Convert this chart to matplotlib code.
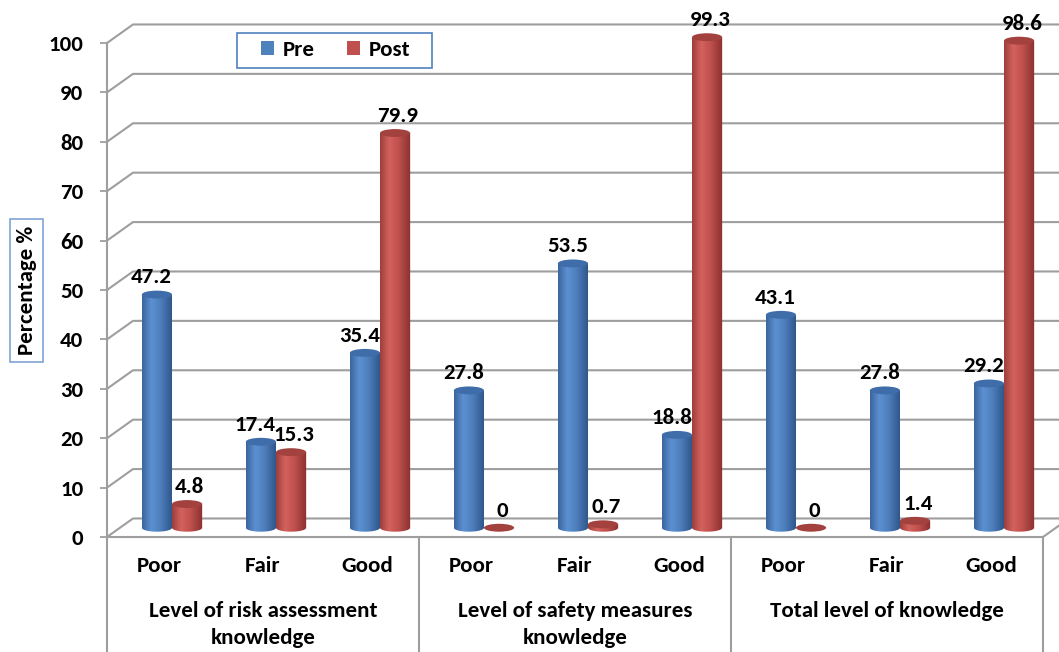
import numpy as np
import matplotlib
matplotlib.use('Agg')
import matplotlib.pyplot as plt
from matplotlib.patches import Ellipse, Patch, PathPatch, Rectangle
from matplotlib.path import Path
from matplotlib.colors import LinearSegmentedColormap

categories = ['Poor', 'Fair', 'Good'] * 3
groups = ['Level of risk assessment\nknowledge',
          'Level of safety measures\nknowledge',
          'Total level of knowledge']
pre = [47.2, 17.4, 35.4, 27.8, 53.5, 18.8, 43.1, 27.8, 29.2]
post = [4.8, 15.3, 79.9, 0, 0.7, 99.3, 0, 1.4, 98.6]
yticks = list(range(0, 101, 10))

plt.rcParams['font.family'] = ['Carlito', 'DejaVu Sans']
plt.rcParams['font.weight'] = 'bold'
FS = 16.5

W, H = 1059, 652
fig = plt.figure(figsize=(W / 100, H / 100), dpi=100)
# axes = front plane of the 3d box, 4.94 px per percent
ax = fig.add_axes([107 / W, 1 - 537 / H, 936 / W, 105 * 4.94 / H])
ax.set_xlim(0, 9)
ax.set_ylim(0, 105)
for s in ax.spines.values():
    s.set_visible(False)
ax.patch.set_visible(False)

# depth of floor / back wall in data units
DX, DY = 0.25, 3.75
grid_c = '#9e9e9e'
lw = 1.5
n = len(categories)

for v in yticks[1:]:
    ax.plot([0, DX, n + 1], [v, v + DY, v + DY], color=grid_c, lw=lw,
            clip_on=False, zorder=1)
# floor
ax.plot([0, DX, n + DX, n, 0], [0, DY, DY, 0, 0], color=grid_c, lw=lw,
        clip_on=False, zorder=1)
# front axis and group separators
ax.plot([0, 0], [100, -30], color=grid_c, lw=lw, clip_on=False, zorder=1)
for g in range(1, 4):
    ax.plot([3 * g, 3 * g], [0, -30], color=grid_c, lw=lw, clip_on=False, zorder=1)

blue_cm = LinearSegmentedColormap.from_list(
    'b', [(0, '#3a649c'), (0.3, '#5c90d2'), (0.6, '#4d7fbc'), (1, '#2c5486')])
red_cm = LinearSegmentedColormap.from_list(
    'r', [(0, '#9c3e3b'), (0.3, '#d4625e'), (0.6, '#c0504d'), (1, '#88302e')])

bw = 0.29
eh = 1.6
base = DY / 2
grad = np.linspace(0, 1, 256).reshape(1, -1)


def cylinder(cx, v, cmap, top_c, dx):
    x0, x1 = cx - bw / 2, cx + bw / 2
    top = base + v
    if v > 0:
        t = np.linspace(np.pi, 2 * np.pi, 40)
        xs = np.concatenate([[x0], cx + bw / 2 * np.cos(t), [x1, x0]])
        ys = np.concatenate([[top], base + eh / 2 * np.sin(t), [top, top]])
        clip = PathPatch(Path(np.column_stack([xs, ys])), fc='none', ec='none')
        ax.add_patch(clip)
        im = ax.imshow(grad, cmap=cmap, extent=[x0, x1, base - eh / 2, top],
                       aspect='auto', zorder=3)
        im.set_clip_path(clip)
    ax.add_patch(Ellipse((cx, top), bw, eh, fc=top_c, ec='none', zorder=4))
    ax.annotate(f'{v:g}', (cx, top), xytext=(dx, 8), textcoords='offset points',
                ha='center', va='baseline', fontsize=FS, fontweight='bold',
                zorder=5, annotation_clip=False)


for i in range(n):
    c = i + 0.5 + DX / 2
    cylinder(c - bw / 2, pre[i], blue_cm, '#3f6da9', -4)
    cylinder(c + bw / 2, post[i], red_cm, '#a3413e', 2)

ax.set_xlim(0, 9)
ax.set_ylim(0, 105)

ax.set_yticks(yticks)
ax.tick_params(axis='y', length=5, width=1.3, color=grid_c, pad=12, labelsize=FS)
ax.set_xticks(np.arange(n) + 0.5, categories)
ax.tick_params(axis='x', length=0, pad=14, labelsize=FS)

for g, name in enumerate(groups):
    ax.text(3 * g + 1.5, -13.0, name, ha='center', va='top', fontsize=FS,
            fontweight='bold', linespacing=1.45, clip_on=False)

# legend
fig.add_artist(Rectangle((237 / W, 1 - 68 / H), 195 / W, 35 / H,
                         transform=fig.transFigure, fc='white',
                         ec='#4f81bd', lw=1.2, zorder=6))
leg = fig.legend(handles=[Patch(fc='#4f81bd'), Patch(fc='#c0504d')],
                 labels=['Pre', 'Post'], loc='center',
                 bbox_to_anchor=(336 / W, 1 - 50 / H), ncol=2, frameon=False,
                 handlelength=0.55, handleheight=0.55, handletextpad=0.4,
                 columnspacing=1.4, fontsize=FS)
leg.set_zorder(7)

# y axis title in a box
fig.add_artist(Rectangle((10 / W, 1 - 362 / H), 33 / W, 143 / H,
                         transform=fig.transFigure, fc='white',
                         ec='#7fa3d4', lw=1.2))
fig.text(27 / W, 1 - 290 / H, 'Percentage %', rotation=90, ha='center',
         va='center', fontsize=FS, fontweight='bold')

fig.savefig('out.png', dpi=100)
